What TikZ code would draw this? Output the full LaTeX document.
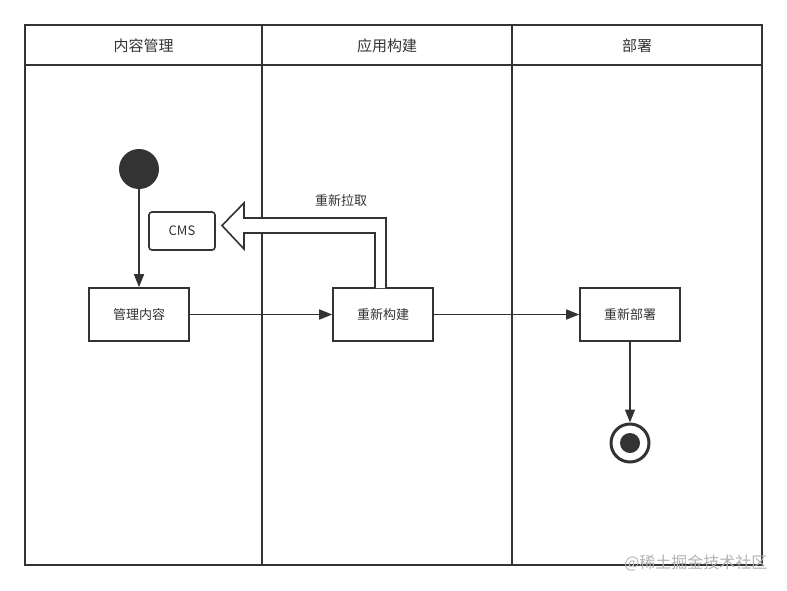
\documentclass[tikz,border=0pt]{standalone}
\usepackage{fontspec}
\setmainfont{Noto Sans CJK SC}
\usetikzlibrary{arrows.meta}
\definecolor{ink}{HTML}{333333}
\begin{document}
\begin{tikzpicture}[x=1pt,y=-1pt,
  lane/.style={draw=ink,line width=1.6pt},
  act/.style={draw=ink,line width=1.6pt,fill=white,minimum width=100pt,minimum height=53pt,inner sep=0pt,font=\fontsize{13}{15}\selectfont,text=ink},
  head/.style={font=\fontsize{15}{17}\selectfont,text=ink},
  flow/.style={draw=ink,line width=1.6pt,-{Triangle[length=13pt,width=10pt]}}]
\useasboundingbox (0,0) rectangle (787,590);
% swimlanes
\draw[lane] (25,25) rectangle (762,565);
\draw[lane] (25,65) -- (762,65);
\draw[lane] (262,25) -- (262,565);
\draw[lane] (512,25) -- (512,565);
\node[head] (h1) at (143.5,46) {内容管理};
\node[head] (h2) at (387,46) {应用构建};
\node[head] (h3) at (637,46) {部署};
% nodes
\node[circle,fill=ink,minimum size=40pt,inner sep=0pt] (start) at (139,169) {};
\node[act] (manage) at (139,314.5) {管理内容};
\node[act] (rebuild) at (383,314.5) {重新构建};
\node[act] (redeploy) at (630,314.5) {重新部署};
\node[draw=ink,line width=1.6pt,rounded corners=3pt,minimum width=66pt,minimum height=38pt,inner sep=0pt,font=\fontsize{13}{15}\selectfont,text=ink] (cms) at (182,231) {CMS};
\node[circle,draw=ink,line width=3pt,fill=white,minimum size=38pt,inner sep=0pt] (endo) at (630,443) {};
\node[circle,fill=ink,minimum size=20pt,inner sep=0pt] (endi) at (630,443) {};
% block arrow
\draw[draw=ink,line width=1.6pt,fill=white,line join=miter]
  (375,288) -- (375,233) -- (244,233) -- (244,249) -- (222,225.5) -- (244,203) -- (244,218) -- (386,218) -- (386,288);
\node[font=\fontsize{13}{15}\selectfont,text=ink] (pull) at (341,201) {重新拉取};
% flows
\draw[flow] (start) -- (manage);
\draw[flow] (manage) -- (rebuild);
\draw[flow] (rebuild) -- (redeploy);
\draw[flow] (redeploy) -- (endo);
% watermark
\node[font=\fontsize{16}{18}\selectfont,text=black!30,anchor=east] (wm) at (771,563) {@稀土掘金技术社区};
\end{tikzpicture}
\end{document}
